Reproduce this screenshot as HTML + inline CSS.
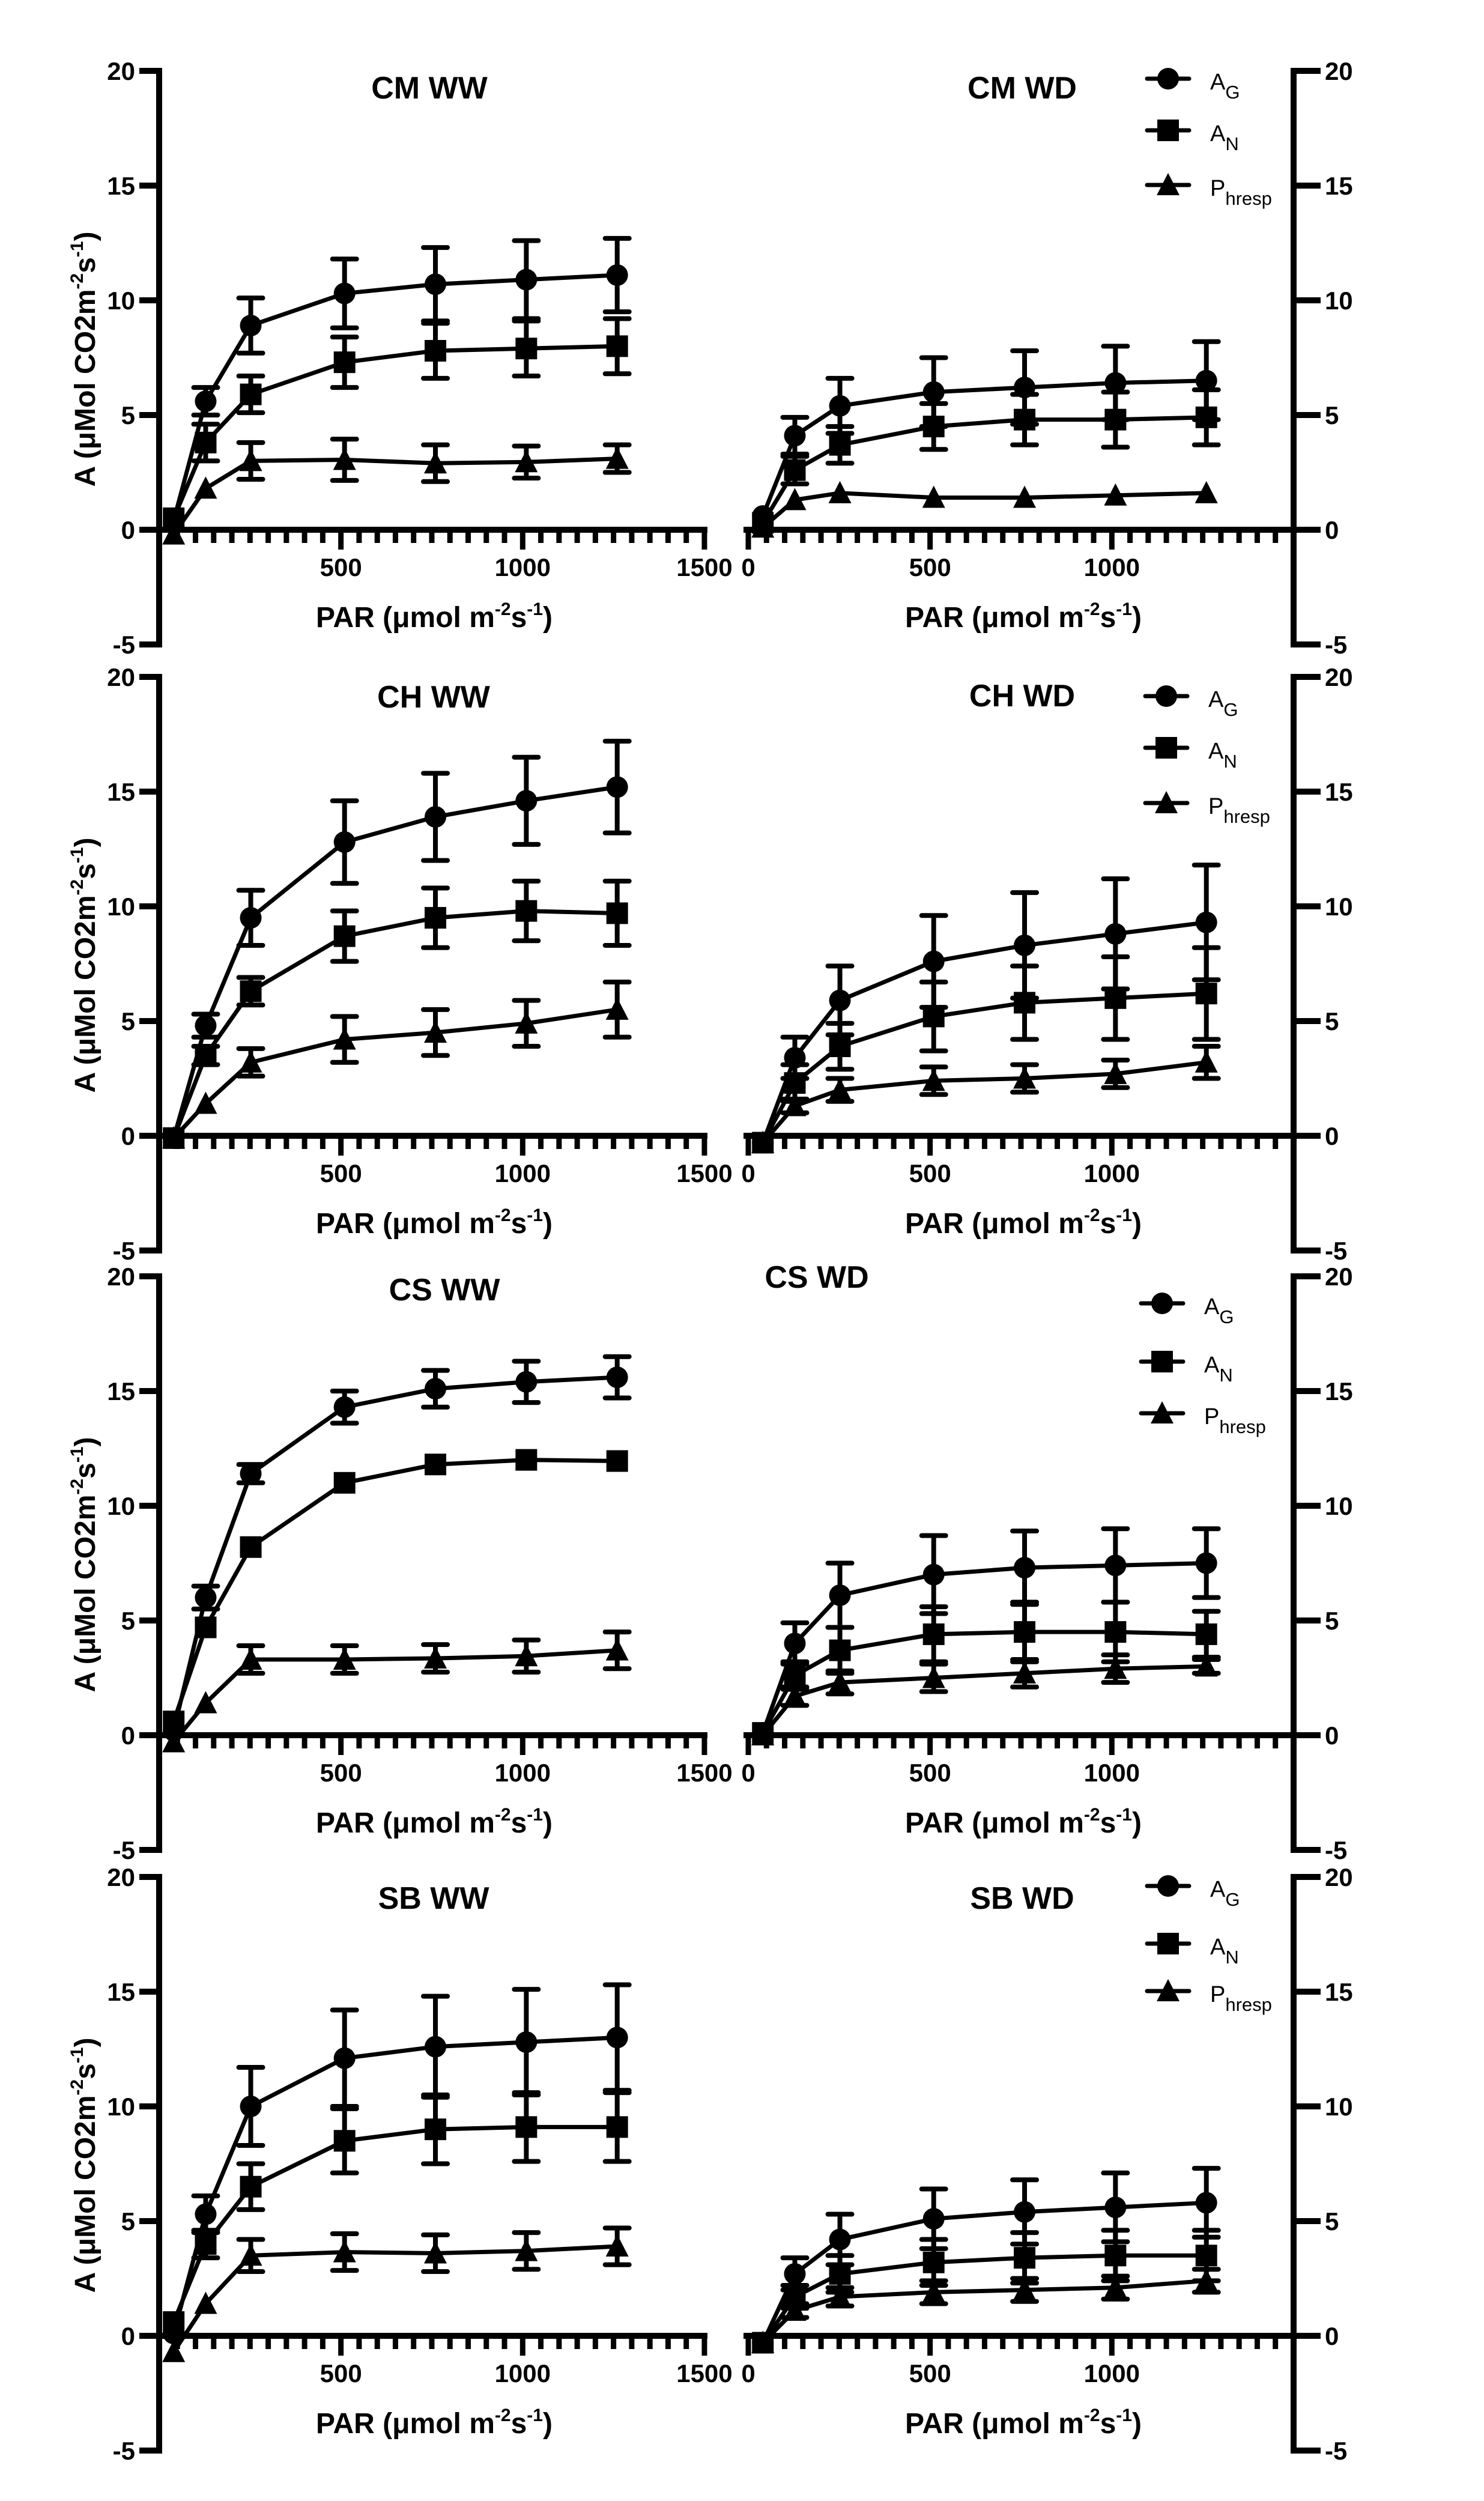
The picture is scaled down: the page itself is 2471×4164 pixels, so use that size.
<!DOCTYPE html>
<html><head><meta charset="utf-8"><style>
html,body{margin:0;padding:0;background:#fff;}
svg{display:block;}
text{font-family:"Liberation Sans",Arial,sans-serif;fill:#000;}
</style></head>
<body>
<svg id="fig" width="2471" height="4164" viewBox="0 0 2471 4164" xmlns="http://www.w3.org/2000/svg"></svg>
<script>
// ---- data ----
const parValues = [40, 128, 252, 510, 760, 1010, 1260];
const yTicks = [-5, 0, 5, 10, 15, 20];
const xTicksLeft = [500, 1000, 1500];
const xTicksRight = [0, 500, 1000];

const cmwwAG = [0.4, 5.6, 8.9, 10.3, 10.7, 10.9, 11.1];
const cmwwAGerr = [0, 0.6, 1.2, 1.5, 1.6, 1.7, 1.6];
const cmwwAN = [0.5, 3.8, 5.9, 7.3, 7.8, 7.9, 8.0];
const cmwwANerr = [0, 0.8, 0.8, 1.1, 1.2, 1.2, 1.2];
const cmwwP = [-0.2, 1.8, 3.0, 3.05, 2.9, 2.95, 3.1];
const cmwwPerr = [0, 0, 0.8, 0.9, 0.8, 0.7, 0.6];

const cmwdAG = [0.6, 4.1, 5.4, 6.0, 6.2, 6.4, 6.5];
const cmwdAGerr = [0, 0.8, 1.2, 1.5, 1.6, 1.6, 1.7];
const cmwdAN = [0.3, 2.6, 3.7, 4.5, 4.8, 4.8, 4.9];
const cmwdANerr = [0, 0.6, 0.8, 1.0, 1.1, 1.2, 1.2];
const cmwdP = [0.1, 1.3, 1.6, 1.4, 1.4, 1.5, 1.6];
const cmwdPerr = [0, 0, 0, 0, 0, 0, 0];

const chwwAG = [-0.1, 4.8, 9.5, 12.8, 13.9, 14.6, 15.2];
const chwwAGerr = [0, 0.5, 1.2, 1.8, 1.9, 1.9, 2.0];
const chwwAN = [-0.1, 3.5, 6.3, 8.7, 9.5, 9.8, 9.7];
const chwwANerr = [0, 0.4, 0.6, 1.1, 1.3, 1.3, 1.4];
const chwwP = [-0.1, 1.4, 3.2, 4.2, 4.5, 4.9, 5.5];
const chwwPerr = [0, 0, 0.6, 1.0, 1.0, 1.0, 1.2];

const chwdAG = [-0.3, 3.4, 5.9, 7.6, 8.3, 8.8, 9.3];
const chwdAGerr = [0, 0.9, 1.5, 2.0, 2.3, 2.4, 2.5];
const chwdAN = [-0.3, 2.3, 3.9, 5.2, 5.8, 6.0, 6.2];
const chwdANerr = [0, 0.8, 1.0, 1.5, 1.6, 1.8, 2.0];
const chwdP = [-0.3, 1.3, 2.0, 2.4, 2.5, 2.7, 3.2];
const chwdPerr = [0, 0.3, 0.5, 0.6, 0.6, 0.6, 0.7];

const cswwAG = [0.2, 6.0, 11.4, 14.3, 15.1, 15.4, 15.6];
const cswwAGerr = [0, 0.5, 0.4, 0.7, 0.8, 0.9, 0.9];
const cswwAN = [0.6, 4.7, 8.2, 11.0, 11.8, 12.0, 11.95];
const cswwANerr = [0, 0, 0, 0, 0, 0, 0];
const cswwP = [-0.3, 1.4, 3.3, 3.3, 3.35, 3.45, 3.7];
const cswwPerr = [0, 0, 0.6, 0.6, 0.6, 0.7, 0.8];

const cswdAG = [0.1, 4.0, 6.1, 7.0, 7.3, 7.4, 7.5];
const cswdAGerr = [0, 0.9, 1.4, 1.7, 1.6, 1.6, 1.5];
const cswdAN = [0.1, 2.6, 3.7, 4.4, 4.5, 4.5, 4.4];
const cswdANerr = [0, 0.6, 1.0, 1.2, 1.3, 1.3, 1.0];
const cswdP = [0.0, 1.7, 2.3, 2.5, 2.7, 2.9, 3.0];
const cswdPerr = [0, 0.4, 0.5, 0.6, 0.6, 0.6, 0.3];

const sbwwAG = [0.1, 5.3, 10.0, 12.1, 12.6, 12.8, 13.0];
const sbwwAGerr = [0, 0.8, 1.7, 2.1, 2.2, 2.3, 2.3];
const sbwwAN = [0.6, 4.0, 6.5, 8.5, 9.0, 9.1, 9.1];
const sbwwANerr = [0, 0.6, 1.0, 1.4, 1.5, 1.5, 1.5];
const sbwwP = [-0.7, 1.4, 3.5, 3.65, 3.6, 3.7, 3.9];
const sbwwPerr = [0, 0, 0.7, 0.8, 0.8, 0.8, 0.8];

const sbwdAG = [-0.3, 2.7, 4.2, 5.1, 5.4, 5.6, 5.8];
const sbwdAGerr = [0, 0.7, 1.1, 1.3, 1.4, 1.5, 1.5];
const sbwdAN = [-0.3, 1.7, 2.7, 3.2, 3.4, 3.5, 3.5];
const sbwdANerr = [0, 0.5, 0.8, 1.0, 1.1, 1.1, 1.1];
const sbwdP = [-0.3, 1.1, 1.7, 1.9, 2.0, 2.1, 2.4];
const sbwdPerr = [0, 0.3, 0.4, 0.5, 0.5, 0.5, 0.5];

const NS = "http://www.w3.org/2000/svg";
const fig = document.getElementById('fig');
function el(tag, attrs, parent) {
  const e = document.createElementNS(NS, tag);
  for (const k in attrs) e.setAttribute(k, attrs[k]);
  (parent || fig).appendChild(e);
  return e;
}
const UNIT = 38.2;
const XS = 0.6053;

function drawPanel(p) {
  const g = el('g', {});
  
  
  const zeroY = p.top + 20 * UNIT;
  const yPos = v => zeroY - v * UNIT;
  const xPos = v => p.x0 + v * XS;
  const axX = p.right ? xPos(1500) : p.x0;
  const xStart = p.right ? p.x0 - 8 : p.x0;
  const xEnd = p.right ? axX : xPos(1500);

  // y axis
  const ya = el('line', {x1: axX, y1: yPos(20) - 5, x2: axX, y2: yPos(-5) + 5, stroke: '#000', 'stroke-width': 10}, g);
  
  
  yTicks.forEach(t => {
    const tx = p.right ? axX + 45 : axX - 33;
    el('line', {x1: axX, y1: yPos(t), x2: tx, y2: yPos(t), stroke: '#000', 'stroke-width': 10}, g);
    const lbl = el('text', {x: p.right ? axX + 52 : axX - 40, y: yPos(t) + 15, 'font-size': 42, 'font-weight': 'bold', 'text-anchor': p.right ? 'start' : 'end'}, g);
    lbl.textContent = String(t);
    
    
  });
  // x axis
  const xa = el('line', {x1: xStart, y1: zeroY, x2: xEnd + (p.right ? 0 : 5), y2: zeroY, stroke: '#000', 'stroke-width': 10}, g);
  
  
  for (let v = 0; v <= 1500; v += 50) {
    const major = v % 500 === 0;
    el('line', {x1: xPos(v), y1: zeroY, x2: xPos(v), y2: zeroY + (major ? 33 : 22), stroke: '#000', 'stroke-width': 9}, g);
  }
  (p.right ? xTicksRight : xTicksLeft).forEach(t => {
    const lbl = el('text', {x: xPos(t), y: zeroY + 77, 'font-size': 42, 'font-weight': 'bold', 'text-anchor': 'middle'}, g);
    lbl.textContent = String(t);
    
    
  });
  // x title
  const xt = el('text', {x: p.x0 + 458, y: zeroY + 162, 'font-size': 48, 'font-weight': 'bold', 'text-anchor': 'middle'}, g);
  xt.innerHTML = 'PAR (μmol m<tspan font-size="30" dy="-20">-2</tspan><tspan dy="20">s</tspan><tspan font-size="30" dy="-20">-1</tspan><tspan dy="20">)</tspan>';
  
  
  // y title (left only)
  if (!p.right) {
    const cy = p.top + 480;
    const yt = el('text', {x: 0, y: 0, 'font-size': 48, 'font-weight': 'bold', 'text-anchor': 'middle', transform: `translate(158 ${cy}) rotate(-90)`}, g);
    yt.innerHTML = 'A (μMol CO2m<tspan font-size="30" dy="-20">-2</tspan><tspan dy="20">s</tspan><tspan font-size="30" dy="-20">-1</tspan><tspan dy="20">)</tspan>';
    
    
  }
  // title
  const tt = el('text', {x: p.tx, y: p.ty + 18, 'font-size': 52, 'font-weight': 'bold', 'text-anchor': 'middle'}, g);
  tt.textContent = p.title;
  
  

  const series = [
    {vals: p.ag, err: p.agErr, shape: 'circle', name: 'ag'},
    {vals: p.an, err: p.anErr, shape: 'square', name: 'an'},
    {vals: p.ph, err: p.phErr, shape: 'triangle', name: 'phresp'}
  ];
  // error bars
  series.forEach(s => {
    s.vals.forEach((v, i) => {
      const e = s.err[i];
      if (!e) return;
      const cx = xPos(parValues[i]);
      const eb = el('path', {d: `M${cx} ${yPos(v - e)}V${yPos(v + e)}M${cx - 20} ${yPos(v + e)}H${cx + 20}M${cx - 20} ${yPos(v - e)}H${cx + 20}`, stroke: '#000', 'stroke-width': 8, 'stroke-linecap': 'round', fill: 'none'}, g);
      
      
    });
  });
  // lines
  series.forEach(s => {
    const pts = s.vals.map((v, i) => xPos(parValues[i]) + ',' + yPos(v)).join(' ');
    const ln = el('polyline', {points: pts, fill: 'none', stroke: '#000', 'stroke-width': 7}, g);
    
    
  });
  // markers
  series.forEach(s => {
    s.vals.forEach((v, i) => {
      const m = marker(s.shape, xPos(parValues[i]), yPos(v), g);
      
      
    });
  });
  // legend
  if (p.legend) {
    const lg = el('g', {}, g);
    
    
    const labels = [['A', 'G'], ['A', 'N'], ['P', 'hresp']];
    const shapes = ['circle', 'square', 'triangle'];
    labels.forEach((lb, k) => {
      const ly = p.top + p.legend.dy[k];
      const lx = p.legend.x;
      el('line', {x1: lx - 35, y1: ly, x2: lx + 35, y2: ly, stroke: '#000', 'stroke-width': 7, 'stroke-linecap': 'round'}, lg);
      marker(shapes[k], lx, ly, lg);
      const t = el('text', {x: lx + 70, y: ly + 18, 'font-size': 38}, lg);
      t.innerHTML = lb[0] + '<tspan font-size="31" dy="15">' + lb[1] + '</tspan>';
      
      
    });
  }
}
function marker(shape, x, y, parent) {
  if (shape === 'circle') return el('ellipse', {cx: x, cy: y, rx: 18, ry: 18, fill: '#000'}, parent);
  if (shape === 'square') return el('rect', {x: x - 18, y: y - 18, width: 36, height: 36, fill: '#000'}, parent);
  return el('polygon', {points: `${x},${y - 20} ${x + 19},${y + 17} ${x - 19},${y + 17}`, fill: '#000'}, parent);
}

const tops = [118, 1127, 2125, 3125];
const L = 265, R = 1246;
drawPanel({name: 'panel-cm-ww', title: 'CM WW', top: tops[0], x0: L, right: false, tx: 715, ty: 146, ag: cmwwAG, agErr: cmwwAGerr, an: cmwwAN, anErr: cmwwANerr, ph: cmwwP, phErr: cmwwPerr});
drawPanel({name: 'panel-cm-wd', title: 'CM WD', top: tops[0], x0: R, right: true, tx: 1702, ty: 146, ag: cmwdAG, agErr: cmwdAGerr, an: cmwdAN, anErr: cmwdANerr, ph: cmwdP, phErr: cmwdPerr, legend: {x: 1945, dy: [13, 99, 190]}});
drawPanel({name: 'panel-ch-ww', title: 'CH WW', top: tops[1], x0: L, right: false, tx: 722, ty: 1160, ag: chwwAG, agErr: chwwAGerr, an: chwwAN, anErr: chwwANerr, ph: chwwP, phErr: chwwPerr});
drawPanel({name: 'panel-ch-wd', title: 'CH WD', top: tops[1], x0: R, right: true, tx: 1702, ty: 1158, ag: chwdAG, agErr: chwdAGerr, an: chwdAN, anErr: chwdANerr, ph: chwdP, phErr: chwdPerr, legend: {x: 1942, dy: [32, 118, 210]}});
drawPanel({name: 'panel-cs-ww', title: 'CS WW', top: tops[2], x0: L, right: false, tx: 740, ty: 2147, ag: cswwAG, agErr: cswwAGerr, an: cswwAN, anErr: cswwANerr, ph: cswwP, phErr: cswwPerr});
drawPanel({name: 'panel-cs-wd', title: 'CS WD', top: tops[2], x0: R, right: true, tx: 1360, ty: 2126, ag: cswdAG, agErr: cswdAGerr, an: cswdAN, anErr: cswdANerr, ph: cswdP, phErr: cswdPerr, legend: {x: 1935, dy: [45, 142, 228]}});
drawPanel({name: 'panel-sb-ww', title: 'SB WW', top: tops[3], x0: L, right: false, tx: 722, ty: 3160, ag: sbwwAG, agErr: sbwwAGerr, an: sbwwAN, anErr: sbwwANerr, ph: sbwwP, phErr: sbwwPerr});
drawPanel({name: 'panel-sb-wd', title: 'SB WD', top: tops[3], x0: R, right: true, tx: 1702, ty: 3160, ag: sbwdAG, agErr: sbwdAGerr, an: sbwdAN, anErr: sbwdANerr, ph: sbwdP, phErr: sbwdPerr, legend: {x: 1945, dy: [15, 111, 190]}});
</script>
</body></html>
